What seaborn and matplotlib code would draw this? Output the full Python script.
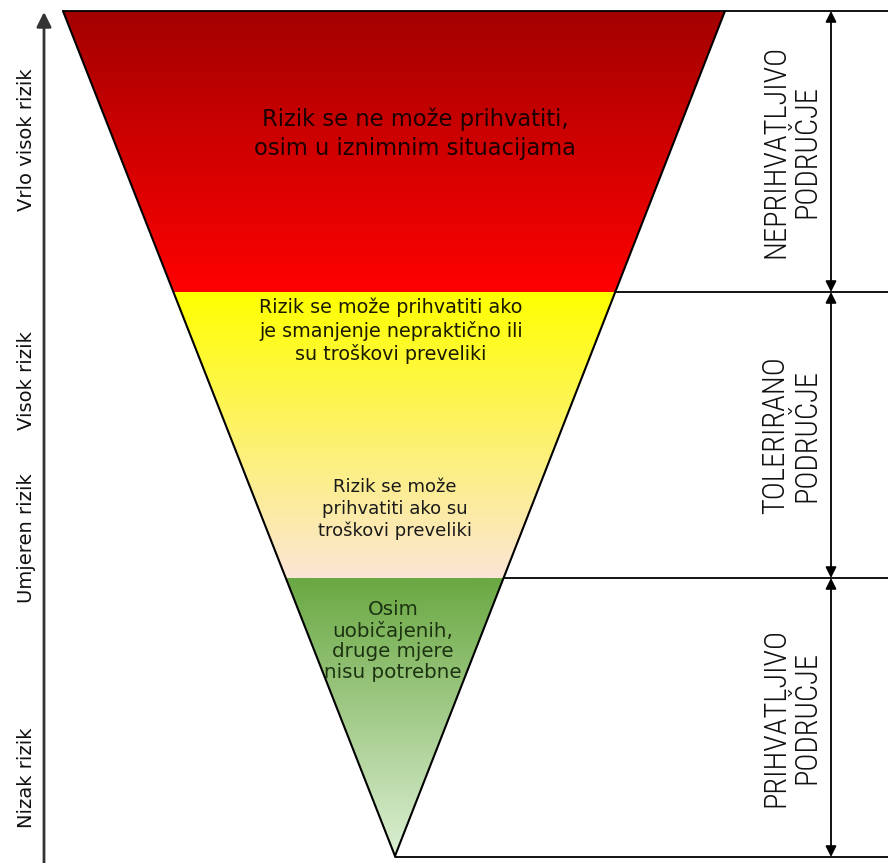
import numpy as np
import matplotlib.pyplot as plt
from matplotlib.patches import Polygon
from matplotlib.colors import to_rgb
import seaborn as sns

# risk triangle geometry (image-like units, y grows downwards)
top_y = 11
tip = (395, 856)
top_left, top_right = 63, 725
zone_bounds = [11, 292, 578, 857]

# zone colours: (top, bottom) of each band
zone_colors = [("#a30000", "#ff0000"), ("#ffff00", "#fbe5d6"), ("#6aa842", "#dcefd3")]

zone_texts = [
    "Rizik se ne može prihvatiti,\nosim u iznimnim situacijama",
    "Rizik se može prihvatiti ako\nje smanjenje nepraktično ili\nsu troškovi preveliki",
    "Rizik se može\nprihvatiti ako su\ntroškovi preveliki",
    "Osim\nuobičajenih,\ndruge mjere\nnisu potrebne",
]
zone_text_pos = [(415, 134), (391, 331), (395, 509), (393, 641)]
zone_text_size = [16.3, 13.8, 13, 14.3]
zone_text_spacing = [1.35, 1.22, 1.25, 1.12]
zone_text_color = ["#1a0000", "#1a1a00", "#1a1a1a", "#1c3311"]

region_labels = ["NEPRIHVATLJIVO\nPODRUČJE", "TOLERIRANO\nPODRUČJE", "PRIHVATLJIVO\nPODRUČJE"]
risk_labels = ["Vrlo visok rizik", "Visok rizik", "Umjeren rizik", "Nizak rizik"]
risk_label_y = [140, 381, 538, 778]

sns.set_theme(style="white")
plt.rcParams["font.family"] = ["DejaVu Sans"]

fig = plt.figure(figsize=(8.88, 8.63), dpi=100)
ax = fig.add_axes([0, 0, 1, 1])
ax.set_xlim(0, 888)
ax.set_ylim(863, 0)
ax.axis("off")


def edge_x(y):
    # x of left and right triangle side at height y
    t = (y - top_y) / (tip[1] - top_y)
    return top_left + t * (tip[0] - top_left), top_right + t * (tip[0] - top_right)


for (y0, y1), (c0, c1) in zip(zip(zone_bounds[:-1], zone_bounds[1:]), zone_colors):
    y1c = min(y1, tip[1])
    l0, r0 = edge_x(y0)
    l1, r1 = edge_x(y1c)
    poly = Polygon([(l0, y0), (r0, y0), (r1, y1c), (l1, y1c)], closed=True,
                   facecolor="none", edgecolor="none")
    ax.add_patch(poly)
    g = np.linspace(0, 1, 256)[:, None, None]
    img = (1 - g) * np.array(to_rgb(c0)) + g * np.array(to_rgb(c1))
    im = ax.imshow(img, extent=(l0, r0, y1c, y0), origin="upper", aspect="auto", zorder=1)
    im.set_clip_path(poly)

# triangle sides
for x_end in (top_left, top_right):
    sns.lineplot(x=[x_end, tip[0]], y=[top_y, tip[1]], sort=False, estimator=None,
                 color="black", linewidth=1.5, ax=ax, zorder=3)

# horizontal zone lines
for i, yb in enumerate(zone_bounds):
    x0 = top_left if i == 0 else edge_x(min(yb, tip[1]))[1]
    sns.lineplot(x=[x0, 888], y=[yb, yb], estimator=None, color="black",
                 linewidth=1.3, ax=ax, zorder=3)

# double arrows and region labels
narrow = ["Liberation Sans Narrow", "Roboto Condensed", "DejaVu Sans Condensed", "DejaVu Sans"]
for (y0, y1), lab in zip(zip(zone_bounds[:-1], zone_bounds[1:]), region_labels):
    ax.annotate("", xy=(831, y0), xytext=(831, y1),
                arrowprops=dict(arrowstyle="<|-|>", color="black", lw=1.3,
                                mutation_scale=16, shrinkA=0, shrinkB=0))
    ax.text(791, (y0 + y1) / 2, lab, rotation=90, ha="center", va="center",
            fontsize=22, linespacing=1.08, color="#111111",
            family=narrow, fontstretch="condensed", fontweight="light")

# left risk axis
ax.annotate("", xy=(44, 12), xytext=(44, 863),
            arrowprops=dict(arrowstyle="-|>", color="#333333", lw=2,
                            mutation_scale=22, shrinkA=0, shrinkB=0))
for lab, y in zip(risk_labels, risk_label_y):
    ax.text(26, y, lab, rotation=90, ha="center", va="center", fontsize=14, color="#111111")

for txt, (x, y), fs, ls, c in zip(zone_texts, zone_text_pos, zone_text_size,
                                  zone_text_spacing, zone_text_color):
    ax.text(x, y, txt, ha="center", va="center", fontsize=fs, color=c,
            linespacing=ls, zorder=4)

fig.savefig("out.png", dpi=100)
